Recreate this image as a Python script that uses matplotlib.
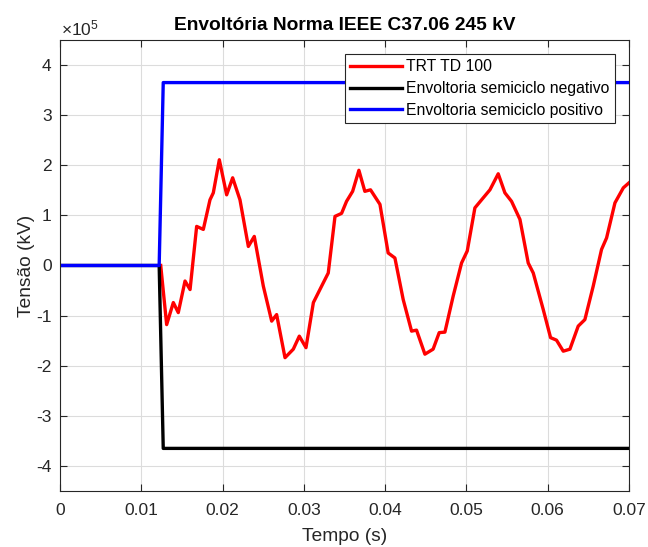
import matplotlib.pyplot as plt
from matplotlib.ticker import FuncFormatter

plt.rcParams['font.family'] = ['Liberation Sans', 'DejaVu Sans']
plt.rcParams['axes.unicode_minus'] = False
plt.rcParams['mathtext.fontset'] = 'custom'
plt.rcParams['mathtext.rm'] = 'Liberation Sans'

# TRT TD 100 (time in s, voltage in units of 1e5 V)
t_trt = [0.01239, 0.01312, 0.01394, 0.01455, 0.01538, 0.0160, 0.01681, 0.01763, 0.01845, 0.01886,
         0.0196, 0.0205, 0.02124, 0.02214, 0.02317, 0.0239, 0.02501, 0.02604, 0.02665, 0.02768,
         0.0287, 0.02944, 0.03026, 0.03117, 0.03219, 0.033, 0.03383, 0.03464, 0.03525, 0.036,
         0.03677, 0.0375, 0.0382, 0.03936, 0.04037, 0.0412, 0.04222, 0.04325, 0.04386, 0.04489,
         0.0459, 0.04665, 0.04735, 0.04837, 0.0494, 0.0501, 0.05104, 0.05186, 0.05289, 0.05391,
         0.05473, 0.05555, 0.05658, 0.0576, 0.05822, 0.05945, 0.06035, 0.06108, 0.06191, 0.06273,
         0.06375, 0.06457, 0.0656, 0.06662, 0.06724, 0.06827, 0.0693, 0.07]
v_trt = [0.0, -1.18, -0.74, -0.94, -0.31, -0.48, 0.78, 0.72, 1.31, 1.45,
         2.11, 1.41, 1.75, 1.31, 0.38, 0.58, -0.41, -1.11, -0.98, -1.84,
         -1.67, -1.41, -1.64, -0.74, -0.41, -0.15, 0.98, 1.04, 1.28, 1.48,
         1.90, 1.48, 1.51, 1.22, 0.25, 0.15, -0.68, -1.31, -1.29, -1.77,
         -1.67, -1.34, -1.33, -0.61, 0.05, 0.29, 1.15, 1.31, 1.51, 1.83,
         1.45, 1.28, 0.92, 0.05, -0.15, -0.88, -1.44, -1.49, -1.71, -1.67,
         -1.21, -1.08, -0.41, 0.32, 0.55, 1.25, 1.55, 1.65]

# envelopes
t_env = [0.0, 0.0122, 0.0127, 0.07]
v_neg = [0.0, 0.0, -3.65, -3.65]
v_pos = [0.0, 0.0, 3.65, 3.65]

scale = 1e5
txt = '#262626'

fig = plt.figure(figsize=(6.48, 5.47), dpi=100)
ax = fig.add_axes([0.0926, 0.1024, 0.8781, 0.8245])

ax.plot(t_trt, [v * scale for v in v_trt], color='#ff0000', linewidth=2.4, label='TRT TD 100')
ax.plot(t_env, [v * scale for v in v_neg], color='black', linewidth=2.4, label='Envoltoria semiciclo negativo')
ax.plot(t_env, [v * scale for v in v_pos], color='#0000ff', linewidth=2.4, label='Envoltoria semiciclo positivo')

ax.set_xlim(0, 0.07)
ax.set_ylim(-4.5e5, 4.5e5)
ax.set_xticks([0, 0.01, 0.02, 0.03, 0.04, 0.05, 0.06, 0.07])
ax.set_xticklabels(['0', '0.01', '0.02', '0.03', '0.04', '0.05', '0.06', '0.07'])
ax.set_yticks([i * scale for i in range(-4, 5)])
ax.yaxis.set_major_formatter(FuncFormatter(lambda v, p: '%g' % (v / scale)))

ax.annotate(r'$\times\mathregular{10^{5}}$', xy=(0, 1), xycoords='axes fraction',
            xytext=(1, 3), textcoords='offset points', ha='left', va='baseline',
            fontsize=12.5, color=txt)

ax.grid(True, color='#dcdcdc', linewidth=0.8)
ax.set_axisbelow(True)
ax.tick_params(direction='in', top=True, right=True, labelsize=12.5, colors=txt, length=5)
ax.tick_params(axis='x', pad=9)
ax.tick_params(axis='y', pad=6)
for s in ax.spines.values():
    s.set_color(txt)
    s.set_linewidth(0.8)

ax.set_title('Envoltória Norma IEEE C37.06 245 kV', fontsize=13.75, fontweight='bold', pad=7)
ax.set_xlabel('Tempo (s)', fontsize=13.75, color=txt, labelpad=7)
ax.set_ylabel('Tensão (kV)', fontsize=13.75, color=txt, labelpad=1)

leg = ax.legend(loc='upper right', bbox_to_anchor=(0.9754, 0.969), borderaxespad=0, fontsize=11.3,
                fancybox=False, framealpha=1, edgecolor=txt, handlelength=3.3,
                borderpad=0.35, labelspacing=0.42, handletextpad=0.25)
leg.get_frame().set_linewidth(0.8)

fig.savefig('out.png', dpi=100)
